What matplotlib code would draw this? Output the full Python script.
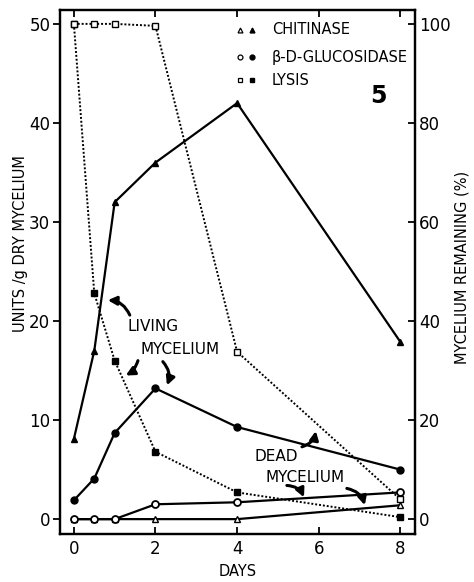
import matplotlib
matplotlib.use("Agg")
import matplotlib.pyplot as plt

plt.rcParams['font.family'] = ['DejaVu Sans']

days = [0, 0.5, 1, 2, 4, 8]
chitinase_living = [8.1, 17.0, 32.0, 36.0, 42.0, 17.9]
chitinase_dead = [0, 0, 0, 0, 0, 1.4]
gluc_living = [1.9, 4.1, 8.7, 13.2, 9.3, 5.0]
gluc_dead = [0, 0, 0, 1.5, 1.7, 2.7]
lysis_living = [100, 45.6, 32.0, 13.6, 5.4, 0.4]
lysis_dead = [100, 100, 100, 99.6, 33.8, 4.0]

xticks = [0, 2, 4, 6, 8]
left_ticks = [0, 10, 20, 30, 40, 50]
right_ticks = [0, 20, 40, 60, 80, 100]

fig = plt.figure(figsize=(4.74, 5.82), dpi=100)
ax = fig.add_axes([0.1266, 0.0825, 0.7489, 0.9003])
ax2 = ax.twinx()

k = 'black'
lw = 1.6
ms = 5
dot = (0, (1, 1))
ax.plot(days, chitinase_living, '-', color=k, lw=lw, marker='^', ms=ms, mfc=k, mec=k, zorder=3)
ax.plot(days, chitinase_dead, '-', color=k, lw=lw, marker='^', ms=ms, mfc='white', mec=k, zorder=3)
ax.plot(days, gluc_living, '-', color=k, lw=lw, marker='o', ms=ms, mfc=k, mec=k, zorder=3)
ax.plot(days, gluc_dead, '-', color=k, lw=lw, marker='o', ms=ms, mfc='white', mec=k, mew=1.3, zorder=4)
ax2.plot(days, lysis_living, color=k, ls=dot, lw=1.4, marker='s', ms=ms, mfc=k, mec=k, zorder=3)
ax2.plot(days, lysis_dead, color=k, ls=dot, lw=1.4, marker='s', ms=ms, mfc='white', mec=k, zorder=3)

ax.set_xlim(-0.34, 8.36)
ax.set_ylim(-1.5, 51.4)
ax2.set_ylim(-3.0, 102.8)
ax.set_xticks(xticks)
ax.set_yticks(left_ticks)
ax2.set_yticks(right_ticks)

fs = 12
ax.tick_params(axis='x', direction='in', top=True, length=5, width=1.3, labelsize=fs, pad=4)
ax.tick_params(axis='y', direction='out', length=5, width=1.3, labelsize=fs, pad=2)
ax2.tick_params(axis='y', direction='in', length=5, width=1.3, labelsize=fs, pad=3)
for a in (ax, ax2):
    for s in a.spines.values():
        s.set_linewidth(1.6)

ax.set_xlabel('DAYS', fontsize=10.5)
ax.set_ylabel('UNITS /g DRY MYCELIUM', fontsize=10.5)
ax2.set_ylabel('MYCELIUM REMAINING (%)', fontsize=10.5, rotation=90)
ax.xaxis.set_label_coords(0.5, -0.058)
ax.yaxis.set_label_coords(-0.090, 0.555)
ax2.yaxis.set_label_coords(1.110, 0.508)

# legend (manual)
legend_items = [('^', 'CHITINASE'), ('o', 'β-D-GLUCOSIDASE'), ('s', 'LYSIS')]
ly = [0.962, 0.910, 0.866]
for (m, lab), yy in zip(legend_items, ly):
    ax.plot([0.507], [yy], transform=ax.transAxes, marker=m, ms=3.5, mfc='white', mec=k, mew=0.9, ls='none', clip_on=False)
    ax.plot([0.54], [yy], transform=ax.transAxes, marker=m, ms=3.5, mfc=k, mec=k, ls='none', clip_on=False)
    ax.text(0.597, yy, lab, transform=ax.transAxes, fontsize=10.5, va='center', ha='left')
ax.text(0.896, 0.836, '5', transform=ax.transAxes, fontsize=17, fontweight='bold', ha='center', va='center')

# annotations
tfs = 11
ax.text(1.94, 19.4, 'LIVING', fontsize=tfs, ha='center', va='center')
ax.text(2.6, 17.1, 'MYCELIUM', fontsize=tfs, ha='center', va='center')
ax.text(4.97, 6.3, 'DEAD', fontsize=tfs, ha='center', va='center')
ax.text(5.66, 4.2, 'MYCELIUM', fontsize=tfs, ha='center', va='center')

ap = dict(arrowstyle='-|>,head_length=0.5,head_width=0.25', color=k, lw=2.2, shrinkA=0, shrinkB=0)
arrows = [((1.37, 20.6), (0.83, 22.1), 0.3),
          ((1.57, 16.0), (1.27, 14.5), -0.2),
          ((2.18, 15.9), (2.28, 13.5), -0.3),
          ((5.59, 7.3), (5.93, 8.9), 0.3),
          ((5.22, 3.4), (5.64, 2.2), -0.3),
          ((6.69, 3.1), (7.13, 1.4), -0.3)]
for tail, head, rad in arrows:
    ax.annotate('', xy=head, xytext=tail,
                arrowprops=dict(ap, connectionstyle=f'arc3,rad={rad}'))

fig.savefig('out.png', dpi=100)
